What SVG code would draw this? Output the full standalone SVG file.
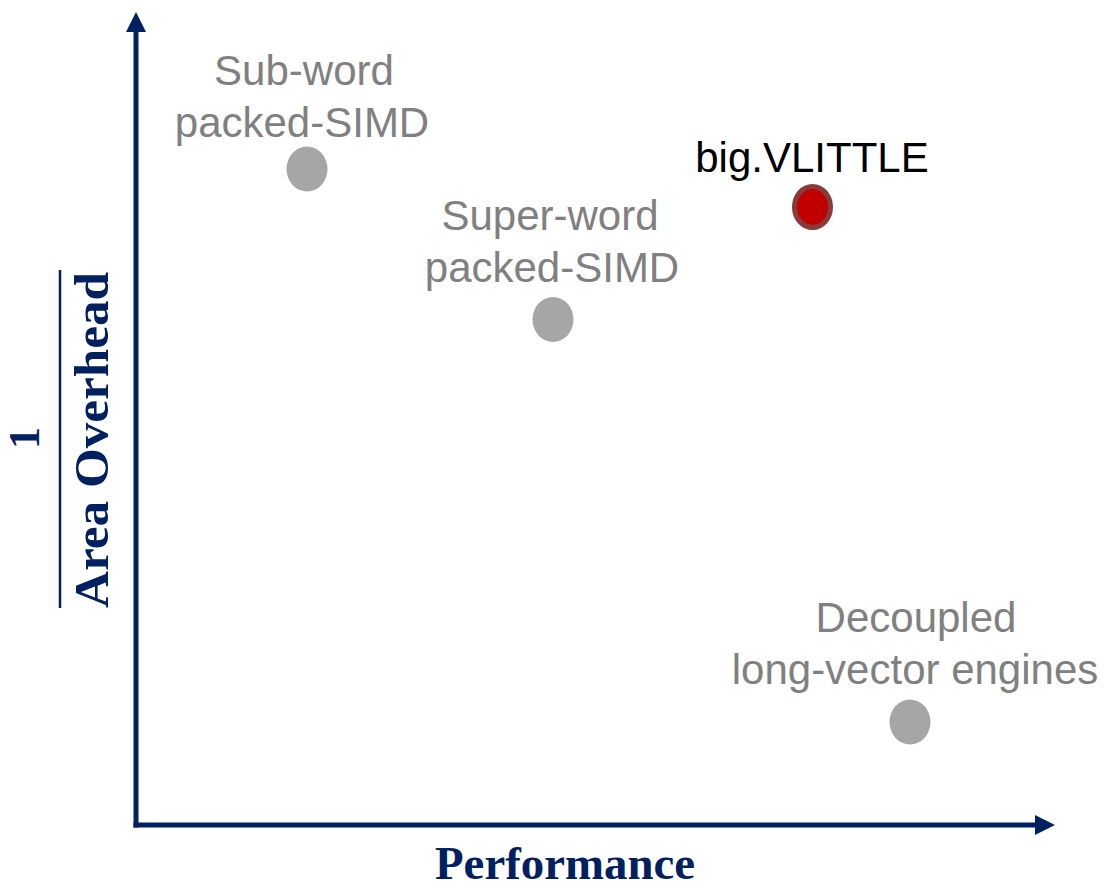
<svg xmlns="http://www.w3.org/2000/svg" width="1107" height="890" viewBox="0 0 1107 890">
<style>
.lbl{font-family:"Liberation Sans",Arial,sans-serif;font-size:42px;fill:#808080;text-anchor:middle}
.ax{font-family:"Liberation Serif","Times New Roman",serif;font-weight:bold;font-size:48px;fill:#002060}
.dot{fill:#a6a6a6}
.axis{stroke:#002060;stroke-width:5;fill:none}
</style>
<defs>
<marker id="arr" markerUnits="userSpaceOnUse" markerWidth="20" markerHeight="20" viewBox="0 0 18 18" refX="0" refY="9" orient="auto">
<path d="M0,0 L18,9 L0,18 Z" fill="#002060"/>
</marker>
</defs>
<rect width="1107" height="890" fill="#ffffff"/>
<g id="connectors">
<line class="axis" x1="136" y1="827.5" x2="136" y2="32" marker-end="url(#arr)"/>
<line class="axis" x1="133.5" y1="825" x2="1035" y2="825" marker-end="url(#arr)"/>
</g>
<g id="axis-x-label">
<text class="ax" x="435" y="879" textLength="260" lengthAdjust="spacingAndGlyphs" style="font-size:46px">Performance</text>
</g>
<g id="axis-y-label">
<text class="ax" transform="translate(39,438) rotate(-90)" text-anchor="middle" style="font-size:44px">1</text>
<line x1="60" y1="270" x2="60" y2="608" stroke="#002060" stroke-width="2.5"/>
<text class="ax" transform="translate(108,272) rotate(-90)" x="-336" y="0" textLength="336" lengthAdjust="spacingAndGlyphs">Area Overhead</text>
</g>
<g id="sub-word">
<text class="lbl" x="304" y="85">Sub-word</text>
<text class="lbl" x="302" y="137">packed-SIMD</text>
<ellipse class="dot" cx="307" cy="169" rx="20.5" ry="22.5"/>
</g>
<g id="super-word">
<text class="lbl" x="550" y="230">Super-word</text>
<text class="lbl" x="552" y="282">packed-SIMD</text>
<ellipse class="dot" cx="553" cy="319.5" rx="20.5" ry="22.5"/>
</g>
<g id="big-vlittle">
<text class="lbl" x="812" y="172" style="fill:#000000">big.VLITTLE</text>
<ellipse cx="812.5" cy="207" rx="18" ry="20.5" fill="#c00000" stroke="#8b3a3a" stroke-width="5"/>
</g>
<g id="decoupled">
<text class="lbl" x="916" y="632">Decoupled</text>
<text class="lbl" x="915" y="684">long-vector engines</text>
<ellipse class="dot" cx="910" cy="722" rx="20.5" ry="22.5"/>
</g>
</svg>
